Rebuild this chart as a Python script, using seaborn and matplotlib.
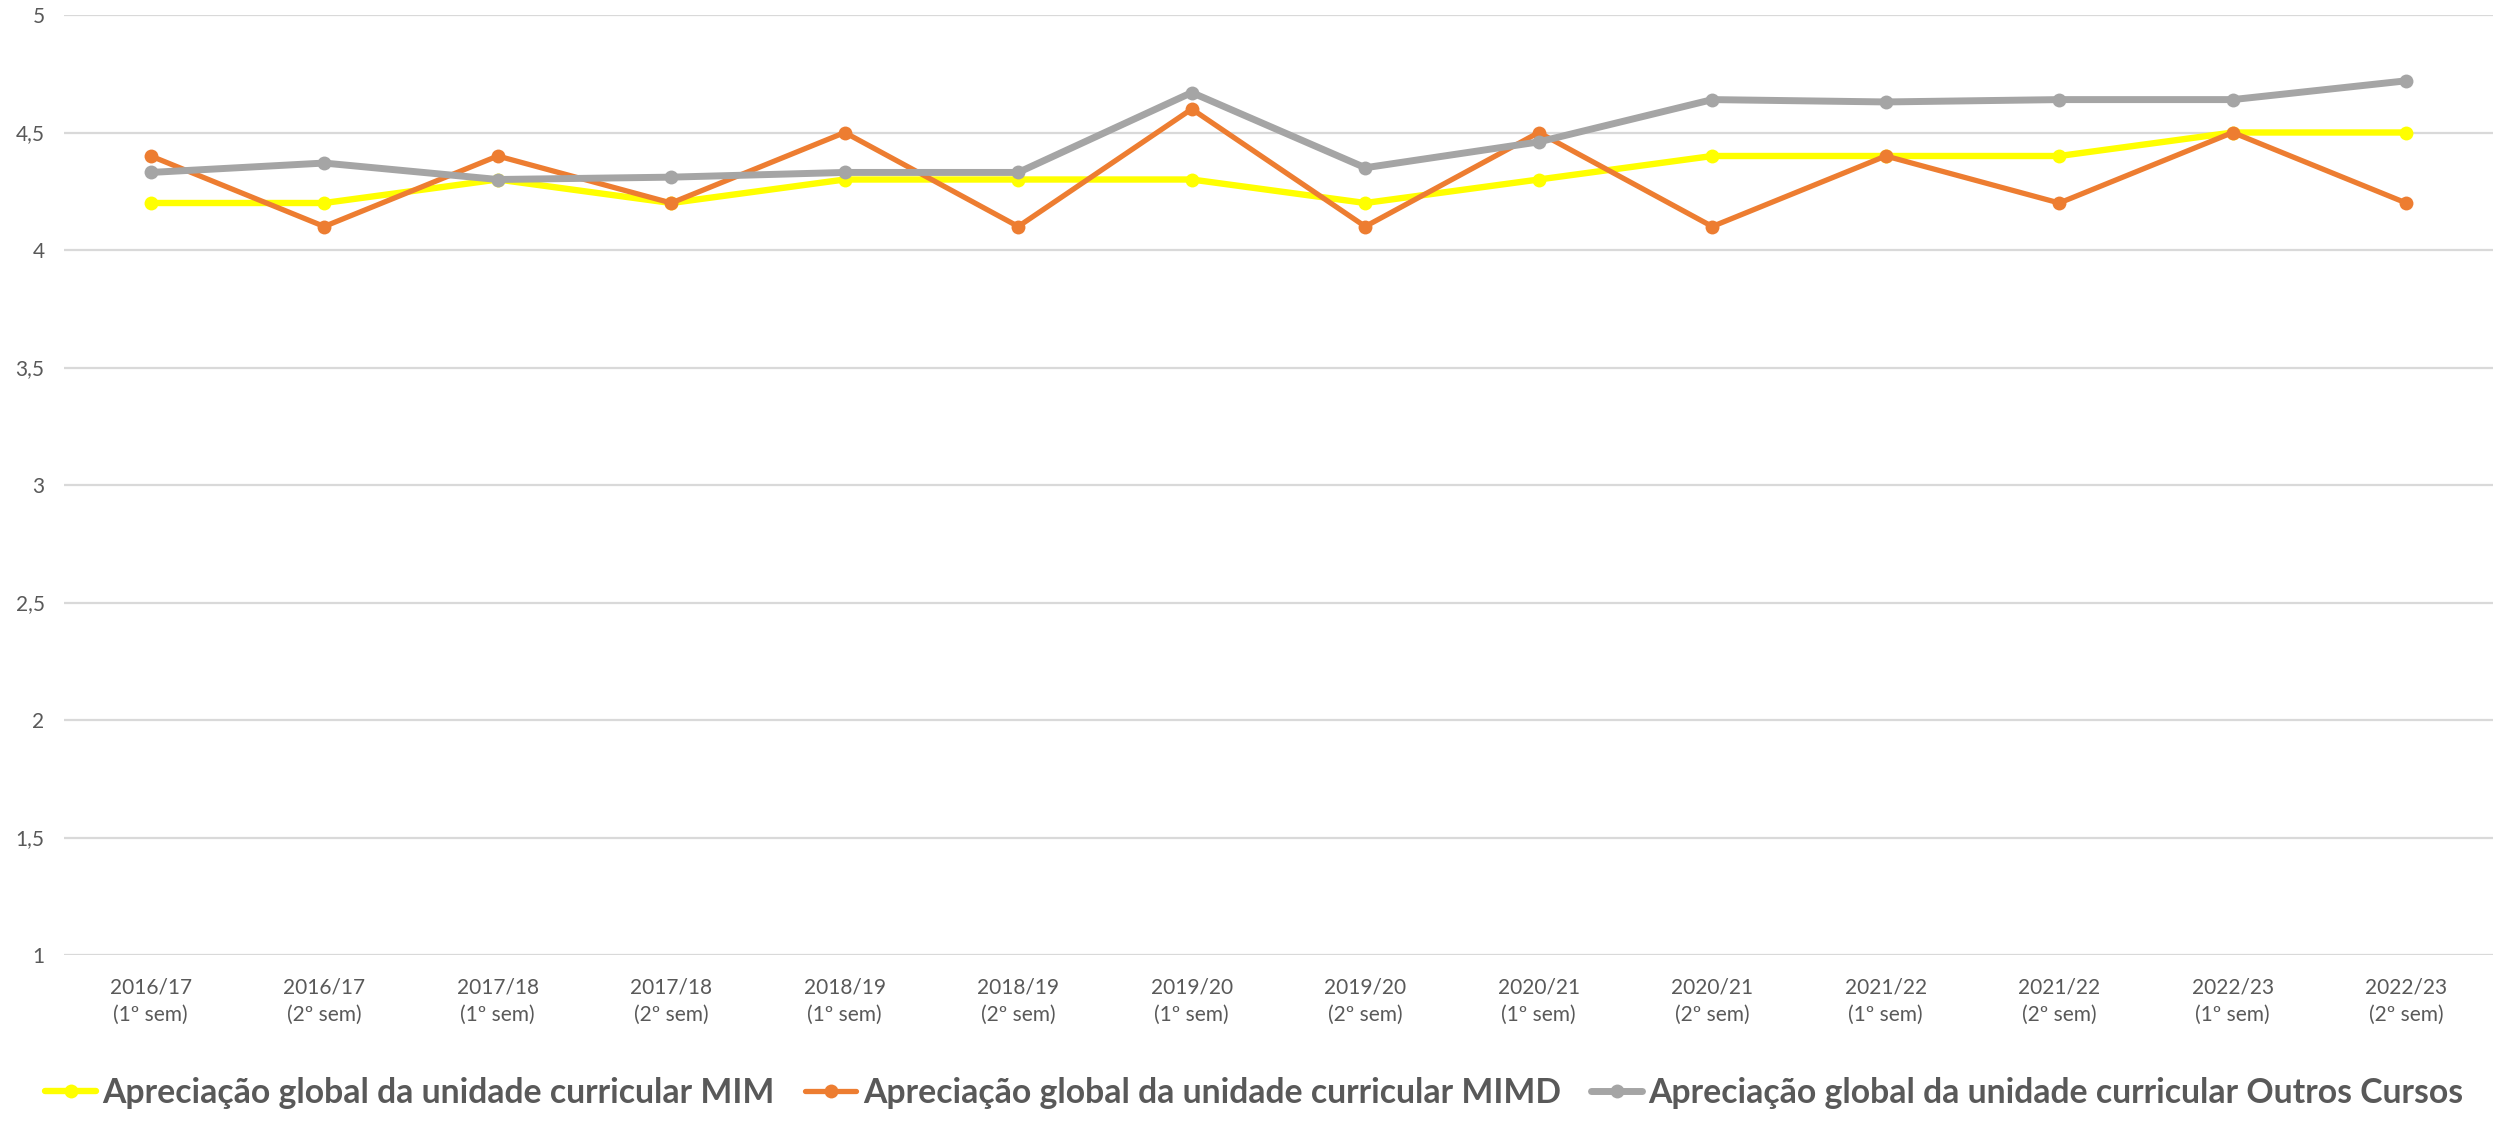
import matplotlib
matplotlib.use("Agg")
import matplotlib.pyplot as plt
import seaborn as sns
import pandas as pd
from matplotlib.ticker import FuncFormatter, MultipleLocator

categories = ["2016/17\n(1º sem)", "2016/17\n(2º sem)", "2017/18\n(1º sem)", "2017/18\n(2º sem)",
              "2018/19\n(1º sem)", "2018/19\n(2º sem)", "2019/20\n(1º sem)", "2019/20\n(2º sem)",
              "2020/21\n(1º sem)", "2020/21\n(2º sem)", "2021/22\n(1º sem)", "2021/22\n(2º sem)",
              "2022/23\n(1º sem)", "2022/23\n(2º sem)"]
mim = [4.2, 4.2, 4.3, 4.2, 4.3, 4.3, 4.3, 4.2, 4.3, 4.4, 4.4, 4.4, 4.5, 4.5]
mimd = [4.4, 4.1, 4.4, 4.2, 4.5, 4.1, 4.6, 4.1, 4.5, 4.1, 4.4, 4.2, 4.5, 4.2]
outros = [4.33, 4.37, 4.30, 4.31, 4.33, 4.33, 4.67, 4.35, 4.46, 4.64, 4.63, 4.64, 4.64, 4.72]

series_names = ["Apreciação global da unidade curricular MIM",
                "Apreciação global da unidade curricular MIMD",
                "Apreciação global da unidade curricular Outros Cursos"]
colors = ["#FFFF00", "#ED7D31", "#A5A5A5"]
widths = [4.6, 3.8, 5.0]

sns.set_theme(style="white")
plt.rcParams['font.family'] = ['Lato', 'DejaVu Sans']

fig = plt.figure(figsize=(25.09, 11.26), dpi=100)
ax = fig.add_axes([64/2509, 1-955/1126, (2493-64)/2509, (955-15)/1126])

x = list(range(len(categories)))
for name, vals, c, lw in zip(series_names, [mim, mimd, outros], colors, widths):
    df = pd.DataFrame({"x": x, "y": vals})
    sns.lineplot(data=df, x="x", y="y", ax=ax, color=c, linewidth=lw, marker="o",
                 markersize=10, markeredgewidth=0, label=name, zorder=3)

ax.set_xlim(-0.5, len(categories) - 0.5)
ax.set_ylim(1, 5)
ax.yaxis.set_major_locator(MultipleLocator(0.5))
ax.yaxis.set_major_formatter(FuncFormatter(lambda v, p: ("%g" % v).replace(".", ",")))
ax.set_xticks(x)
ax.set_xticklabels(categories, linespacing=1.45)
ax.grid(axis="y", color="#D9D9D9", linewidth=1.6, zorder=0)
ax.grid(axis="x", visible=False)
for s in ax.spines.values():
    s.set_visible(False)
ax.tick_params(axis="both", length=0, labelsize=15, labelcolor="#595959")
ax.tick_params(axis="x", pad=16)
ax.tick_params(axis="y", pad=14)
ax.set_xlabel("")
ax.set_ylabel("")

handles, labels = ax.get_legend_handles_labels()
ax.get_legend().remove()
leg = fig.legend(handles, labels, loc="lower center", bbox_to_anchor=(0.5, -0.006), ncol=3,
                 frameon=False, prop={"size": 24.3, "weight": "bold"},
                 handlelength=1.5, handletextpad=0.2, columnspacing=0.9,
                 borderaxespad=0.3)
for t in leg.get_texts():
    t.set_color("#595959")

fig.savefig("out.png", dpi=100)
